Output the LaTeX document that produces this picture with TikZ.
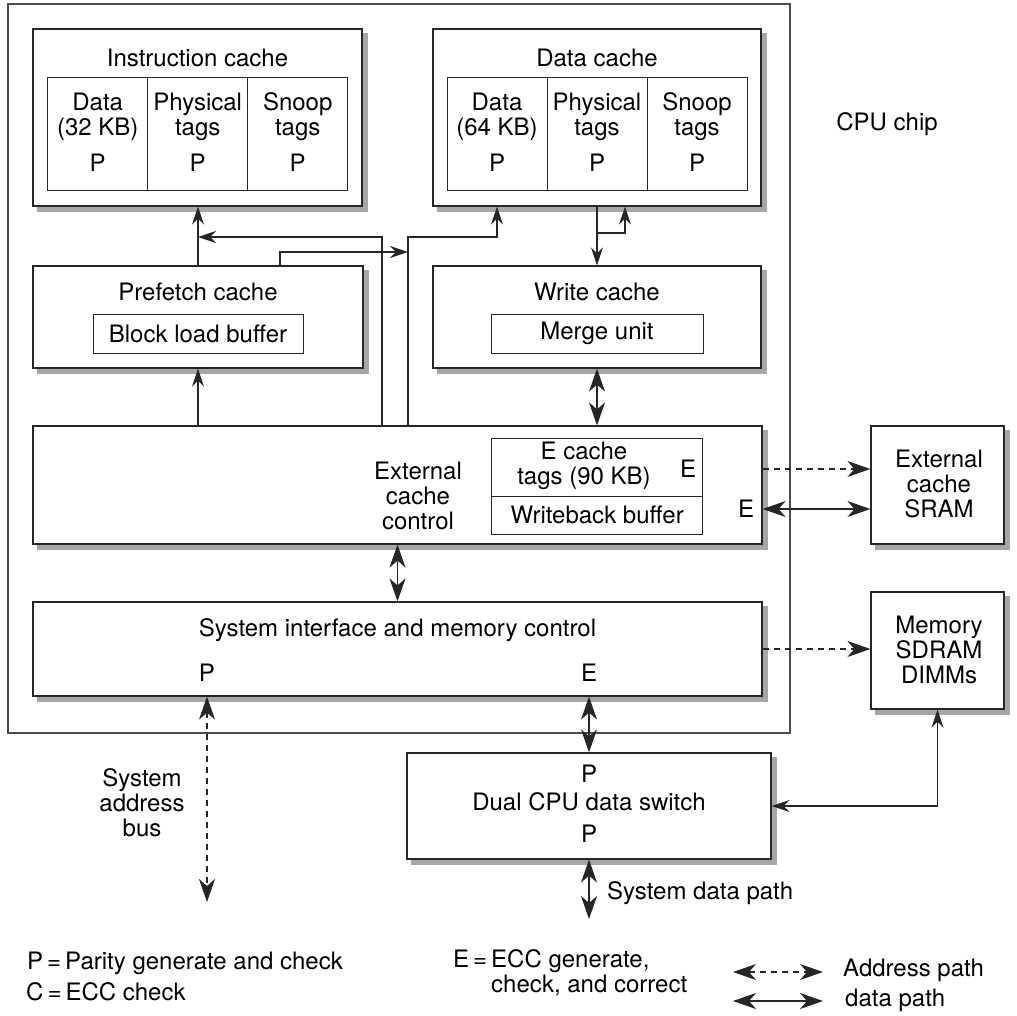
\documentclass[tikz,border=0pt]{standalone}
\usepackage{fontspec}
\setmainfont{TeX Gyre Heros}
\usetikzlibrary{arrows.meta}

\begin{document}
\begin{tikzpicture}[x=1pt, y=-1pt, font=\fontsize{24}{25}\selectfont]
\tikzset{bloc/.style={draw=black!85, line width=1.2pt, fill=white, inner sep=0pt}}
\tikzset{ombre/.style={fill=black!35, draw=none}}
\tikzset{cellule/.style={draw=black!85, line width=1pt, fill=white, inner sep=0pt}}
\tikzset{etiq/.style={align=center, inner sep=1pt}}
\tikzset{fleche/.style={draw=black!85, line width=1.2pt, -{Stealth[length=18pt, width=12pt, inset=6pt]}}}
\tikzset{fleches/.style={draw=black!85, line width=1.2pt, {Stealth[length=23pt, width=16pt, inset=7pt]}-{Stealth[length=23pt, width=16pt, inset=7pt]}}}
\tikzset{grandefleche/.style={draw=black!85, line width=1.2pt, -{Stealth[length=23pt, width=16pt, inset=7pt]}}}
\tikzset{pointille/.style={dash pattern=on 6pt off 5pt}}
\useasboundingbox (0,0) rectangle (1017,1015);
% puce
\node[draw=black!70, line width=1.2pt, minimum width=782pt, minimum height=729pt] (CPU) at (399,368.5) {};
\node[etiq] (CPUt) at (887,124) {CPU chip};
% caches L1
\node[bloc, minimum width=329pt, minimum height=177pt] (IC) at (197.5,117.5) {};
\node[etiq] (ICt) at (197.5,58) {Instruction cache};
\node[bloc, minimum width=328pt, minimum height=177pt] (DC) at (597,117.5) {};
\node[etiq] (DCt) at (597,58) {Data cache};
\foreach \x/\nom/\txt in {97.7/IC1/{Data\\(32 KB)}, 197.7/IC2/{Physical\\tags}, 297.7/IC3/{Snoop\\tags},
    497/DC1/{Data\\(64 KB)}, 597/DC2/{Physical\\tags}, 697/DC3/{Snoop\\tags}} {
  \node[cellule, minimum width=100pt, minimum height=113pt] (\nom) at (\x,133.5) {};
  \node[etiq] (\nom t) at (\x,117) {\txt};
  \node[etiq] (\nom p) at (\x,163) {P};
}
% prefetch et write cache
\node[bloc, minimum width=330pt, minimum height=102pt] (PC) at (198,317) {};
\node[etiq] (PCt) at (198,292) {Prefetch cache};
\node[cellule, minimum width=210pt, minimum height=39pt] (BLB) at (198,333.5) {Block load buffer};
\node[bloc, minimum width=328pt, minimum height=102pt] (WC) at (597,317) {};
\node[etiq] (WCt) at (597,292) {Write cache};
\node[cellule, minimum width=212pt, minimum height=39pt] (MU) at (597,333.5) {Merge unit};
% controle du cache externe
\node[bloc, minimum width=729pt, minimum height=118pt] (ECC) at (397.5,485) {};
\node[etiq] (ECCt) at (418,496) {External\\cache\\control};
\node[cellule, minimum width=211pt, minimum height=58pt] (TAG) at (597.2,467) {};
\node[cellule, minimum width=211pt, minimum height=38pt] (WB) at (597.2,515) {Writeback buffer};
\node[etiq] (TAGt) at (584,466) {E cache\\tags (90 KB)};
\node[etiq] (TAGe) at (688,469) {E};
\node[etiq] (ECCe) at (746,509) {E};
% interface systeme
\node[bloc, minimum width=729pt, minimum height=94pt] (SI) at (397.5,649) {};
\node[etiq] (SIt) at (397.5,630) {System interface and memory control};
\node[etiq] (SIp) at (207,673) {P};
\node[etiq] (SIe) at (589,673) {E};
% hors puce
\node[bloc, minimum width=133pt, minimum height=118pt] (SRAM) at (937.5,485) {};
\node[etiq] (SRAMt) at (939,483.5) {External\\cache\\SRAM};
\node[bloc, minimum width=133pt, minimum height=117pt] (MEM) at (937.5,650.5) {};
\node[etiq] (MEMt) at (939,649.5) {Memory\\SDRAM\\DIMMs};
\node[bloc, minimum width=364pt, minimum height=106pt] (DS) at (589,806) {};
\node[etiq] (DSp1) at (589,774) {P};
\node[etiq] (DSt) at (589,802) {Dual CPU data switch};
\node[etiq] (DSp2) at (589,834) {P};
\node[etiq] (SAB) at (142,803) {System\\address\\bus};
\node[etiq, anchor=west] (SDP) at (606,893) {System data path};
% ombres
\foreach \n in {IC,DC,PC,WC,ECC,SI,SRAM,MEM,DS} {
  \fill[ombre] ([shift={(0.6pt,-5pt)}]\n.north east) rectangle ([shift={(5.6pt,-5.6pt)}]\n.south east);
  \fill[ombre] ([shift={(5pt,-0.6pt)}]\n.south west) rectangle ([shift={(5.6pt,-5.6pt)}]\n.south east);
}
% connexions
\coordinate (j1) at (382,237);
\coordinate (j2) at (280,252);
\coordinate (j3) at (408,252);
\coordinate (j4) at (408,237);
\coordinate (j5) at (497,237);
\coordinate (j6) at (597,233);
\coordinate (j7) at (625,233);
\draw[fleche] (PC.north) -- (PC.north |- IC.south);
\draw[fleche] (ECC.north -| PC.south) -- (PC.south);
\draw[fleche] (ECC.north -| j1) -- (j1) -- (PC.north |- j1);
\draw[fleche] (PC.north -| j2) -- (j2) -- (j3);
\draw[fleche] (ECC.north -| j4) -- (j4) -- (j5) -- (DC.south -| j5);
\draw[fleche] (DC.south) -- (WC.north);
\draw[fleche] (j6) -- (j7) -- (DC.south -| j7);
\draw[fleches] (WC.south) -- (ECC.north -| WC.south);
\draw[fleches] (ECC.south) -- (SI.north);
\draw[grandefleche, pointille] (ECC.east |- TAGe) -- (SRAM.west |- TAGe);
\draw[fleches] (ECC.east |- ECCe) -- (SRAM.west |- ECCe);
\draw[grandefleche, pointille] (SI.east |- 0,649) -- (MEM.west |- 0,649);
\coordinate (sab) at (207,902);
\draw[fleches, pointille] (SI.south -| sab) -- (sab);
\draw[fleches] (SI.south -| DS.north) -- (DS.north);
\draw[fleche, {Stealth[length=18pt, width=12pt, inset=6pt]}-{Stealth[length=18pt, width=12pt, inset=6pt]}] (MEM.south) -- (MEM.south |- DS.east) -- (DS.east);
\coordinate (sdp) at (589,919);
\draw[fleches] (DS.south) -- (sdp);
% legende
\node[etiq, anchor=west] (LP) at (26,963) {P\,=\,Parity generate and check};
\node[etiq, anchor=west] (LC) at (25,992) {C\,=\,ECC check};
\node[etiq, anchor=north west, align=left] (LE) at (452,948) {E\,=\,ECC generate,\\\phantom{E\,=\,}check, and correct};
\coordinate (la1) at (733,972);
\coordinate (la2) at (823,972);
\coordinate (ld1) at (733,1001);
\coordinate (ld2) at (823,1001);
\draw[fleches, pointille] (la1) -- (la2);
\draw[fleches] (ld1) -- (ld2);
\node[etiq, anchor=west] (LA) at (842,970) {Address path};
\node[etiq, anchor=west] (LD) at (844,1000) {data path};
\end{tikzpicture}
\end{document}
